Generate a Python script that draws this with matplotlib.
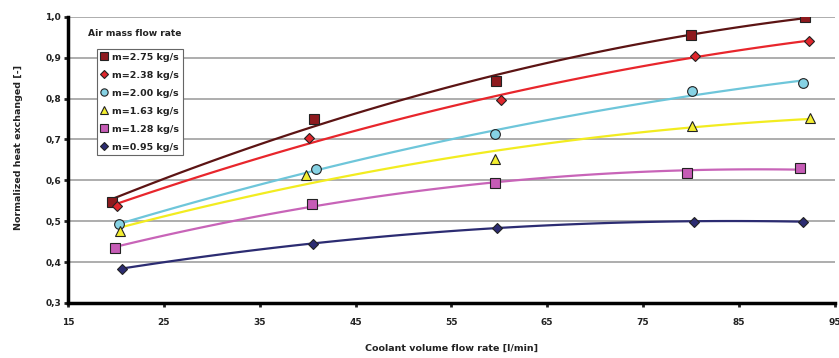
import numpy as np
import matplotlib.pyplot as plt

plt.rcParams['font.family'] = ['DejaVu Sans']

# air mass flow rate series (label, coolant flow [l/min], normalized heat)
labels = ['m=2.75 kg/s', 'm=2.38 kg/s', 'm=2.00 kg/s',
          'm=1.63 kg/s', 'm=1.28 kg/s', 'm=0.95 kg/s']

x_275 = [19.6, 40.7, 59.7, 80.0, 91.9]
y_275 = [0.548, 0.750, 0.843, 0.956, 1.000]
x_238 = [20.1, 40.1, 60.2, 80.4, 92.3]
y_238 = [0.538, 0.703, 0.796, 0.905, 0.942]
x_200 = [20.3, 40.9, 59.5, 80.1, 91.7]
y_200 = [0.493, 0.627, 0.714, 0.818, 0.839]
x_163 = [20.4, 39.8, 59.6, 80.1, 92.4]
y_163 = [0.476, 0.613, 0.652, 0.733, 0.752]
x_128 = [19.9, 40.5, 59.6, 79.6, 91.4]
y_128 = [0.434, 0.542, 0.594, 0.617, 0.631]
x_095 = [20.6, 40.6, 59.8, 80.3, 91.7]
y_095 = [0.384, 0.445, 0.484, 0.499, 0.499]

xs = [x_275, x_238, x_200, x_163, x_128, x_095]
ys = [y_275, y_238, y_200, y_163, y_128, y_095]

line_colors = ['#5c1414', '#e8262c', '#6ec6da', '#f2ec20', '#c864b8', '#2c2c72']
face_colors = ['#8e1a1e', '#e0262c', '#86d2e4', '#f4ee30', '#c65cb6', '#2c2c72']
markers = ['s', 'D', 'o', '^', 's', 'D']
msizes = [7, 5.5, 7, 7, 7, 5.5]

fig = plt.figure(figsize=(8.39, 3.58), dpi=100)
ax = fig.add_axes([0.081, 0.154, 0.914, 0.799])

handles = []
for i in range(len(labels)):
    # second order trend line, like the spreadsheet one
    coef = np.polyfit(xs[i], ys[i], 2)
    xx = np.linspace(min(xs[i]), max(xs[i]), 100)
    ax.plot(xx, np.polyval(coef, xx), color=line_colors[i], lw=1.6, zorder=3)
    h, = ax.plot(xs[i], ys[i], linestyle='none', marker=markers[i], ms=msizes[i],
                 mfc=face_colors[i], mec='#222222', mew=0.8, zorder=4, label=labels[i])
    handles.append(h)

ax.set_xlim(15, 95)
ax.set_ylim(0.3, 1.0)
ax.set_xticks(np.arange(15, 96, 10))
ax.set_yticks(np.arange(0.3, 1.01, 0.1))
ax.set_yticklabels([('%.1f' % v).replace('.', ',') for v in np.arange(0.3, 1.01, 0.1)])
for lab in ax.get_xticklabels() + ax.get_yticklabels():
    lab.set_fontweight('bold')
ax.tick_params(axis='both', labelsize=6.5, width=2, length=3, direction='out', colors='#222222')
ax.tick_params(axis='x', pad=8)
ax.tick_params(axis='y', pad=2)

ax.grid(axis='y', color='#adadad', lw=1.4)
ax.set_axisbelow(True)
for s in ['top', 'right']:
    ax.spines[s].set_visible(False)
for s in ['left', 'bottom']:
    ax.spines[s].set_linewidth(2.5)
ax.spines['left'].set_zorder(5)

ax.set_xlabel('Coolant volume flow rate [l/min]', fontsize=6.8, fontweight='bold', color='#222222')
ax.set_ylabel('Normalized heat exchanged [-]', fontsize=6.8, fontweight='bold', color='#222222')
ax.xaxis.set_label_coords(0.5, -0.145)
ax.yaxis.set_label_coords(-0.059, 0.545)

ax.text(0.026, 0.94, 'Air mass flow rate', transform=ax.transAxes, fontsize=6.6,
        fontweight='bold', va='center', ha='left', color='#222222')
leg = ax.legend(handles=handles, loc='upper left', bbox_to_anchor=(0.038, 0.888),
                fancybox=False, framealpha=1, edgecolor='#666666',
                prop={'size': 6.8, 'weight': 'bold'}, handlelength=0.7,
                handletextpad=0.45, labelspacing=0.95, borderpad=0.4,
                borderaxespad=0, markerscale=0.75)
leg.get_frame().set_linewidth(0.8)
for t in leg.get_texts():
    t.set_color('#222222')

fig.savefig('out.png', dpi=100)
